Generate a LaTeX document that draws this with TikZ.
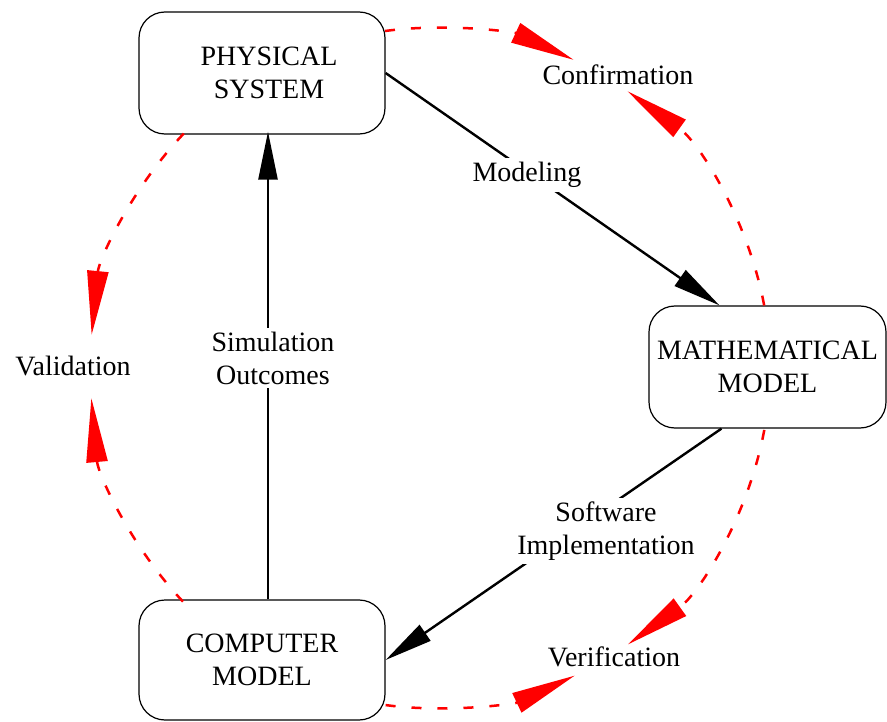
\documentclass[tikz,border=0pt]{standalone}
\usepackage{fontspec}
\setmainfont{Liberation Serif}
\usetikzlibrary{arrows.meta}
\begin{document}
\begin{tikzpicture}[x=1pt,y=-1pt,
  box/.style={draw, line width=1.2pt, rounded corners=26pt, align=center,
    font=\fontsize{28}{33}\selectfont, inner sep=0pt},
  lbl/.style={align=center, font=\fontsize{28}{33}\selectfont, inner sep=4pt},
  wlbl/.style={lbl, fill=white},
  flow/.style={line width=2.4pt, -{Triangle[length=48pt,width=19pt]}},
  check/.style={red, line width=2.5pt, dash pattern=on 10pt off 16pt,
    -{Triangle[length=64pt,width=21pt]}}]
\useasboundingbox (0,0) rectangle (887,722);
% boxes
\node[box, minimum width=246pt, minimum height=122pt] (phys) at (262,73) {\hspace*{14pt}PHYSICAL\\\hspace*{14pt}SYSTEM};
\node[box, minimum width=237pt, minimum height=122pt] (math) at (767.5,367) {MATHEMATICAL\\MODEL};
\node[box, minimum width=246pt, minimum height=120pt] (comp) at (262,660) {COMPUTER\\MODEL};
% circle coordinates
\coordinate (c) at (430,368);
\path (c) ++(-97.6:340) coordinate (s1);
\path (c) ++(-10.6:340) coordinate (s2);
\path (c) ++(10.5:340) coordinate (s3);
\path (c) ++(97.5:340) coordinate (s4);
\path (c) ++(223.6:340) coordinate (s5);
\path (c) ++(136.6:340) coordinate (s6);
% black flows
\draw[flow] (phys.east) -- ([xshift=-48pt]math.north) coordinate (mtop);
\draw[flow] ([xshift=-46pt]math.south) -- (comp.east);
\draw[flow] ([xshift=6pt]comp.north) -- ([xshift=6pt,yshift=3pt]phys.south);
% labels on flows
\node[wlbl] (modeling) at (527,175) {Modeling};
\node[wlbl] (simout) at (273,358) {Simulation\\Outcomes};
\node[wlbl] (softimp) at (606,531) {Software\\Implementation};
% red checks
\draw[check] (s1) arc[start angle=-97.6, end angle=-65, radius=340];
\draw[check] (s2) arc[start angle=-10.6, end angle=-54.5, radius=340];
\draw[check] (s3) arc[start angle=10.5, end angle=54.4, radius=340];
\draw[check] (s4) arc[start angle=97.5, end angle=64.8, radius=340];
\draw[check] (s5) arc[start angle=223.6, end angle=185.6, radius=340];
\draw[check] (s6) arc[start angle=136.6, end angle=174.9, radius=340];
% check labels
\node[lbl] (conf) at (618,75) {Confirmation};
\node[lbl] (valid) at (73,366) {Validation};
\node[lbl] (verif) at (614,657) {Verification};
\end{tikzpicture}
\end{document}
